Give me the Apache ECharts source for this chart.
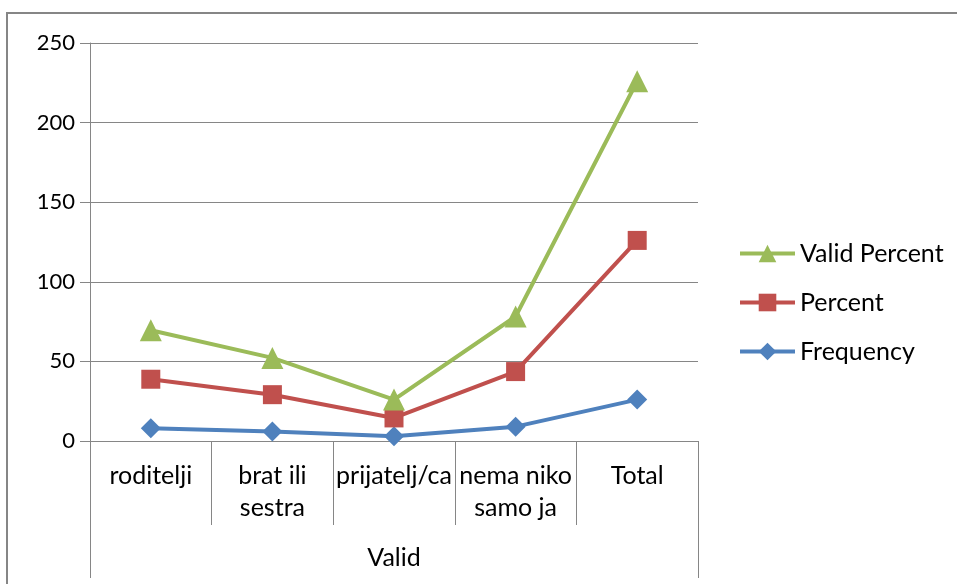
<!DOCTYPE html>
<html>
<head>
<meta charset="utf-8">
<script src="https://cdn.jsdelivr.net/npm/echarts@6/dist/echarts.min.js"></script>
<style>
  html, body { margin: 0; padding: 0; background: #fff; }
  #chart { width: 957px; height: 584px; }
</style>
</head>
<body>
<div id="chart"></div>
<script>
// data (series are stacked, like the original)
const categories = ['roditelji', 'brat ili\nsestra', 'prijatelj/ca', 'nema niko\nsamo ja', 'Total']
const groupLabel = ['Valid']
const frequency = [8, 6, 3, 9, 26]
const percent = [30.8, 23.1, 11.5, 34.6, 100]
const validPercent = [30.8, 23.1, 11.5, 34.6, 100]
const yTicks = { min: 0, max: 250, interval: 50 }

const FONT = 'Lato, "Noto Sans", sans-serif'
const GREY = '#868686'

const chart = echarts.init(document.getElementById('chart'))

const mkSeries = (name, data, color, symbol, size) => ({
  name,
  type: 'line',
  stack: 'total',
  data,
  symbol,
  symbolSize: size,
  lineStyle: { color, width: 4 },
  itemStyle: { color },
  emphasis: { disabled: true }
})

chart.setOption({
  animation: false,
  textStyle: { fontFamily: FONT },
  graphic: [{
    type: 'rect',
    shape: { x: 7, y: 13, width: 1000, height: 700 },
    style: { fill: 'none', stroke: GREY, lineWidth: 2 },
    z: -1
  }],
  grid: { left: 90, right: 259, top: 43, bottom: 143 },
  legend: {
    orient: 'vertical',
    left: 733,
    top: 236,
    itemWidth: 55,
    itemHeight: 22,
    itemGap: 24,
    data: ['Valid Percent', 'Percent', 'Frequency'],
    lineStyle: { width: 4 },
    textStyle: { fontFamily: FONT, fontSize: 25, color: '#000' }
  },
  xAxis: [{
    type: 'category',
    data: categories,
    boundaryGap: true,
    axisLine: { lineStyle: { color: GREY, width: 1 } },
    axisTick: { show: true, length: 84, lineStyle: { color: GREY } },
    axisLabel: {
      interval: 0,
      margin: 19,
      color: '#000',
      fontFamily: FONT,
      fontSize: 25,
      lineHeight: 32
    }
  }, {
    type: 'category',
    position: 'bottom',
    data: groupLabel,
    boundaryGap: true,
    axisLine: { show: false },
    axisTick: { show: true, length: 137, lineStyle: { color: GREY } },
    axisLabel: { margin: 104, color: '#000', fontFamily: FONT, fontSize: 25 }
  }],
  yAxis: {
    type: 'value',
    min: yTicks.min,
    max: yTicks.max,
    interval: yTicks.interval,
    axisLine: { show: true, lineStyle: { color: GREY } },
    axisTick: { show: true, length: 10, lineStyle: { color: GREY } },
    splitLine: { lineStyle: { color: GREY, width: 1 } },
    axisLabel: { margin: 15, color: '#000', fontFamily: FONT, fontSize: 22 }
  },
  series: [
    mkSeries('Frequency', frequency, '#4F81BD', 'diamond', 20),
    mkSeries('Percent', percent, '#C0504D', 'rect', 19),
    mkSeries('Valid Percent', validPercent, '#9BBB59', 'triangle', 22)
  ]
})
</script>
</body>
</html>
